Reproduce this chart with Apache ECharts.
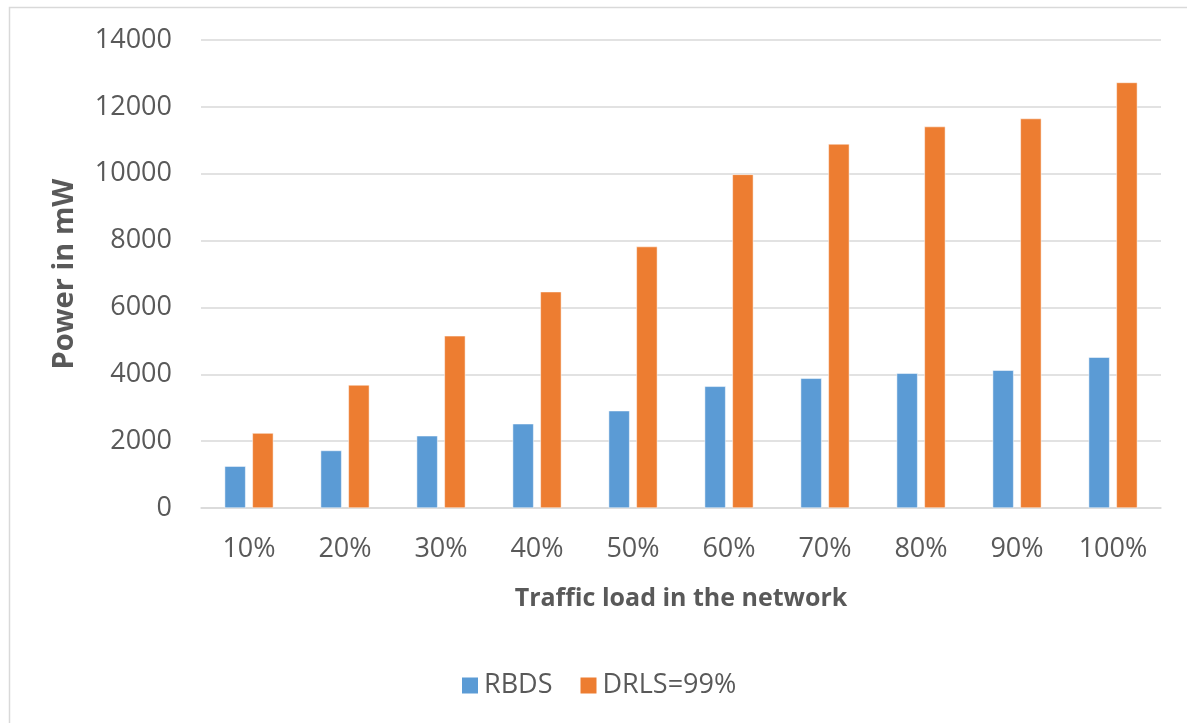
<!DOCTYPE html>
<html>
<head>
<meta charset="utf-8">
<script src="https://cdn.jsdelivr.net/npm/echarts@6/dist/echarts.min.js"></script>
<style>html,body{margin:0;padding:0;background:#fff}#c{width:1187px;height:723px}</style>
</head>
<body>
<div id="c"></div>
<script>
const categories = ['10%','20%','30%','40%','50%','60%','70%','80%','90%','100%'];
const rbds = [1250, 1720, 2160, 2520, 2910, 3640, 3880, 4030, 4120, 4510];
const drls = [2240, 3680, 5150, 6470, 7820, 9980, 10890, 11410, 11650, 12730];
const seriesNames = ['RBDS', 'DRLS=99%'];
const yTicks = { min: 0, max: 14000, interval: 2000 };

const FONT = 'Open Sans';
const chart = echarts.init(document.getElementById('c'), null, { renderer: 'canvas' });
chart.setOption({
  backgroundColor: '#fff',
  animation: false,
  textStyle: { fontFamily: FONT },
  graphic: [{
    type: 'rect', left: 7, top: 5,
    shape: { width: 1300, height: 800 },
    style: { fill: 'none', stroke: '#d9d9d9', lineWidth: 1.5 }
  }],
  grid: { left: 201, right: 26, top: 40, bottom: 215, containLabel: false },
  legend: {
    data: seriesNames,
    left: 455, top: 667,
    itemWidth: 18, itemHeight: 18, itemGap: 26,
    icon: 'rect',
    textStyle: { fontSize: 27, color: '#595959', fontFamily: FONT, padding: [0,0,0,0] }
  },
  xAxis: {
    type: 'category', data: categories,
    axisLine: { lineStyle: { color: '#d9d9d9', width: 1.5 } },
    axisTick: { show: false },
    axisLabel: { fontSize: 27, color: '#595959', margin: 28 },
    name: 'Traffic load in the network',
    nameLocation: 'middle', nameGap: 78,
    nameTextStyle: { fontSize: 25, fontWeight: 'bold', color: '#595959' }
  },
  yAxis: {
    type: 'value', min: yTicks.min, max: yTicks.max, interval: yTicks.interval,
    axisLine: { show: false }, axisTick: { show: false },
    splitLine: { lineStyle: { color: '#d9d9d9', width: 1.5 } },
    axisLabel: { fontSize: 27, color: '#595959', margin: 29, formatter: v => String(v) },
    name: 'Power in mW',
    nameLocation: 'middle', nameGap: 122,
    nameTextStyle: { fontSize: 29, fontWeight: 'bold', color: '#595959' }
  },
  series: [
    { name: seriesNames[0], type: 'bar', data: rbds, barWidth: 21, barGap: '32%',
      itemStyle: { color: '#5B9BD5', borderColor: '#ffffff', borderWidth: 0.5 } },
    { name: seriesNames[1], type: 'bar', data: drls, barWidth: 21,
      itemStyle: { color: '#ED7D31', borderColor: '#ffffff', borderWidth: 0.5 } }
  ]
});
</script>
</body>
</html>
